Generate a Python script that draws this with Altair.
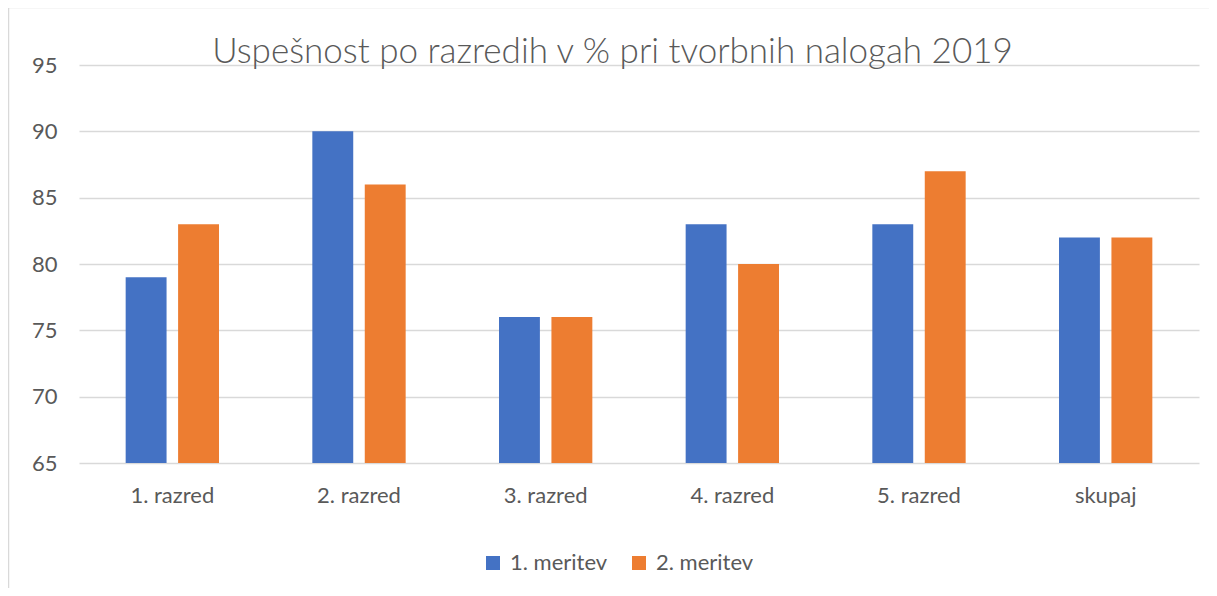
import altair as alt
import pandas as pd

razredi = ["1. razred", "2. razred", "3. razred", "4. razred", "5. razred", "skupaj"]
meritev_1 = [79, 90, 76, 83, 83, 82]
meritev_2 = [83, 86, 76, 80, 87, 82]
serije = ["1. meritev", "2. meritev"]
barve = ["#4472C4", "#ED7D31"]
y_ticks = [65, 70, 75, 80, 85, 90, 95]
naslov = "Uspešnost po razredih v % pri tvorbnih nalogah 2019"

rows = []
for r, a, b in zip(razredi, meritev_1, meritev_2):
    rows.append({"razred": r, "meritev": serije[0], "vrednost": a})
    rows.append({"razred": r, "meritev": serije[1], "vrednost": b})
df = pd.DataFrame(rows)

FONT = "Lato"
GREY = "#595959"

bars = alt.Chart(df).mark_bar().encode(
    x=alt.X("razred:N", sort=razredi, title=None,
            scale=alt.Scale(paddingInner=0.5, paddingOuter=0.25),
            axis=alt.Axis(labelAngle=0, domain=False, ticks=False, grid=False,
                          labelPadding=22, labelFontSize=22, labelFont=FONT,
                          labelColor=GREY)),
    xOffset=alt.XOffset("meritev:N", sort=serije,
                        scale=alt.Scale(paddingInner=0.22, paddingOuter=0)),
    y=alt.Y("vrednost:Q", title=None,
            scale=alt.Scale(domain=[65, 95], zero=False, nice=False),
            axis=alt.Axis(values=y_ticks, domain=False, ticks=False, grid=True,
                          gridColor="#D9D9D9", gridWidth=1.5,
                          labelPadding=22, labelFontSize=22, labelFont=FONT,
                          labelColor=GREY)),
    y2=alt.datum(65),
    color=alt.Color("meritev:N", sort=serije,
                    scale=alt.Scale(domain=serije, range=barve),
                    legend=alt.Legend(title=None, orient="none", direction="horizontal",
                                      legendX=403, legendY=487,
                                      symbolType="square", symbolSize=196,
                                      symbolStrokeWidth=0,
                                      labelFontSize=22, labelFont=FONT,
                                      labelColor=GREY, labelOffset=6,
                                      columnPadding=20)),
)

single = pd.DataFrame({"naslov": [naslov]})

border = alt.Chart(single).mark_rect(
    fill=None, stroke="#D9D9D9", strokeWidth=1.5
).encode(
    x=alt.value(-70.5), x2=alt.value(1200),
    y=alt.value(-57.5), y2=alt.value(600),
)

title = alt.Chart(single).mark_text(
    font=FONT, fontSize=35, fontWeight=300, color=GREY,
    align="center", baseline="alphabetic"
).encode(
    text="naslov:N",
    x=alt.value(533.5),
    y=alt.value(-2),
)

chart = alt.layer(border, bars, title).properties(
    width=1120,
    height=398,
    autosize=alt.AutoSizeParams(type="none"),
    padding={"left": 71, "top": 57, "right": 10, "bottom": 125},
).configure_view(stroke=None)

chart.save("out.html", embed_options={"renderer": "svg", "actions": False})
